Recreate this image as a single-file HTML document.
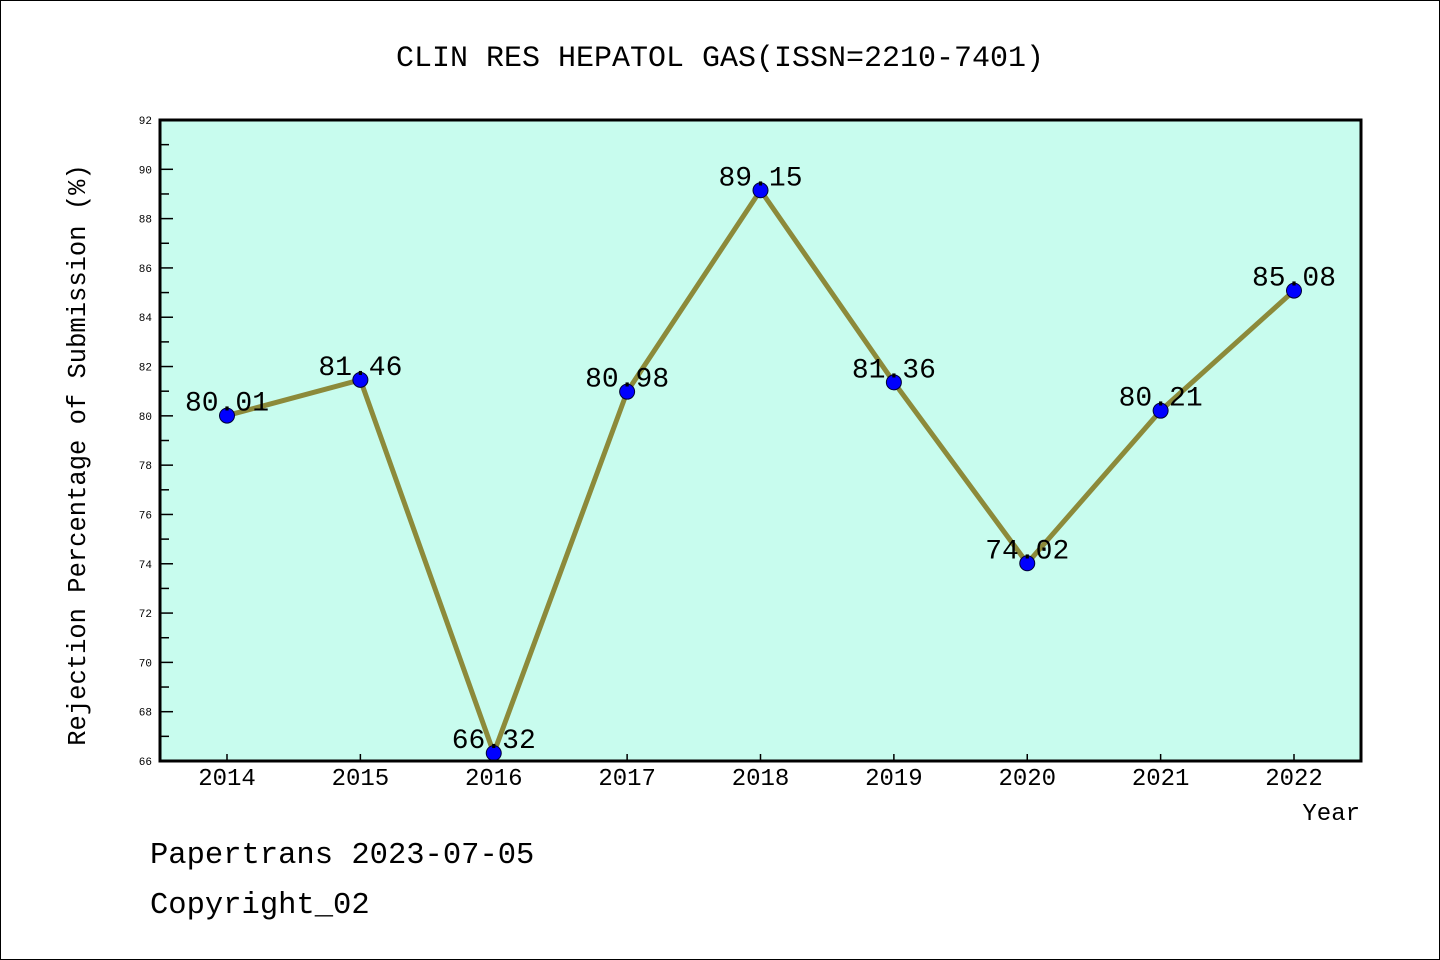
<!DOCTYPE html>
<html><head><meta charset="utf-8"><style>
html,body{margin:0;padding:0;background:#fff}
svg{display:block}
text{font-family:"Liberation Mono","WenQuanYi Zen Hei",monospace}
</style></head><body>
<svg id="chart" width="1440" height="960" xmlns="http://www.w3.org/2000/svg">
<rect x="0.5" y="0.5" width="1439" height="959" fill="#fff" stroke="#000" stroke-width="1"/>
<text x="720" y="66" font-size="30" text-anchor="middle">CLIN RES HEPATOL GAS(ISSN=2210-7401)</text>
<rect x="160" y="120" width="1201" height="641" fill="#c8fcee"/>
<g id="yaxis"></g>
<g id="xaxis"></g>
<g id="series"></g>
<rect x="160" y="120" width="1201" height="641" fill="none" stroke="#000" stroke-width="3"/>
<text transform="translate(85,455) rotate(-90)" font-size="25.5" text-anchor="middle">Rejection Percentage of Submission (%)</text>
<text x="1360" y="820" font-size="24" text-anchor="end">Year</text>
<text x="150" y="863" font-size="30.5">Papertrans 2023-07-05</text>
<text x="150" y="913" font-size="30.5">Copyright_02</text>
</svg>
<script>
const years = ["2014","2015","2016","2017","2018","2019","2020","2021","2022"];
const rejection = [80.01,81.46,66.32,80.98,89.15,81.36,74.02,80.21,85.08];
const yTicks = [66,68,70,72,74,76,78,80,82,84,86,88,90,92];
const NS="http://www.w3.org/2000/svg";
const L=160,R=1361,T=120,B=761,yMin=66,yMax=92;
const x0=227,xStep=(1294-227)/8;
function xs(i){return x0+i*xStep;}
function ys(v){return B-(v-yMin)/(yMax-yMin)*(B-T);}
function mk(tag,a,p){const e=document.createElementNS(NS,tag);for(const k in a)e.setAttribute(k,a[k]);p.appendChild(e);return e;}
const ya=document.getElementById('yaxis'),xa=document.getElementById('xaxis'),sg=document.getElementById('series');
yTicks.forEach(v=>{
  const y=ys(v);
  const t=mk('line',{x1:L,x2:L+13,y1:y,y2:y,stroke:'#000','stroke-width':1.5},ya);
  
  
  const lb=mk('text',{x:152,y:y+4,'font-size':11,'text-anchor':'end','font-family':'Liberation Sans, sans-serif'},ya);
  lb.textContent=v;
  
  
  if(v<yMax){
    const ym=ys(v+1);
    const m=mk('line',{x1:L,x2:L+9,y1:ym,y2:ym,stroke:'#000','stroke-width':1.5},ya);
    
    
  }
});
years.forEach((yr,i)=>{
  const x=xs(i);
  const t=mk('line',{x1:x,x2:x,y1:B,y2:B-7,stroke:'#000','stroke-width':1.5},xa);
  
  
  const lb=mk('text',{x:x,y:785,'font-size':24,'text-anchor':'middle','font-family':'Liberation Sans, sans-serif'},xa);
  lb.textContent=yr;
  
  
});
const pts=rejection.map((v,i)=>xs(i)+','+ys(v)).join(' ');
const pl=mk('polyline',{points:pts,fill:'none',stroke:'#8c8a3a','stroke-width':5,'stroke-linejoin':'round'},sg);


rejection.forEach((v,i)=>{
  const c=mk('circle',{cx:xs(i),cy:ys(v),r:7.5,fill:'#0000ff',stroke:'#000033','stroke-width':1},sg);
  
  
  const lb=mk('text',{x:xs(i),y:ys(v)-5,'font-size':28,'text-anchor':'middle','font-family':'Liberation Sans, sans-serif'},sg);
  lb.textContent=v.toFixed(2);
  
  
});
</script>
</body></html>
